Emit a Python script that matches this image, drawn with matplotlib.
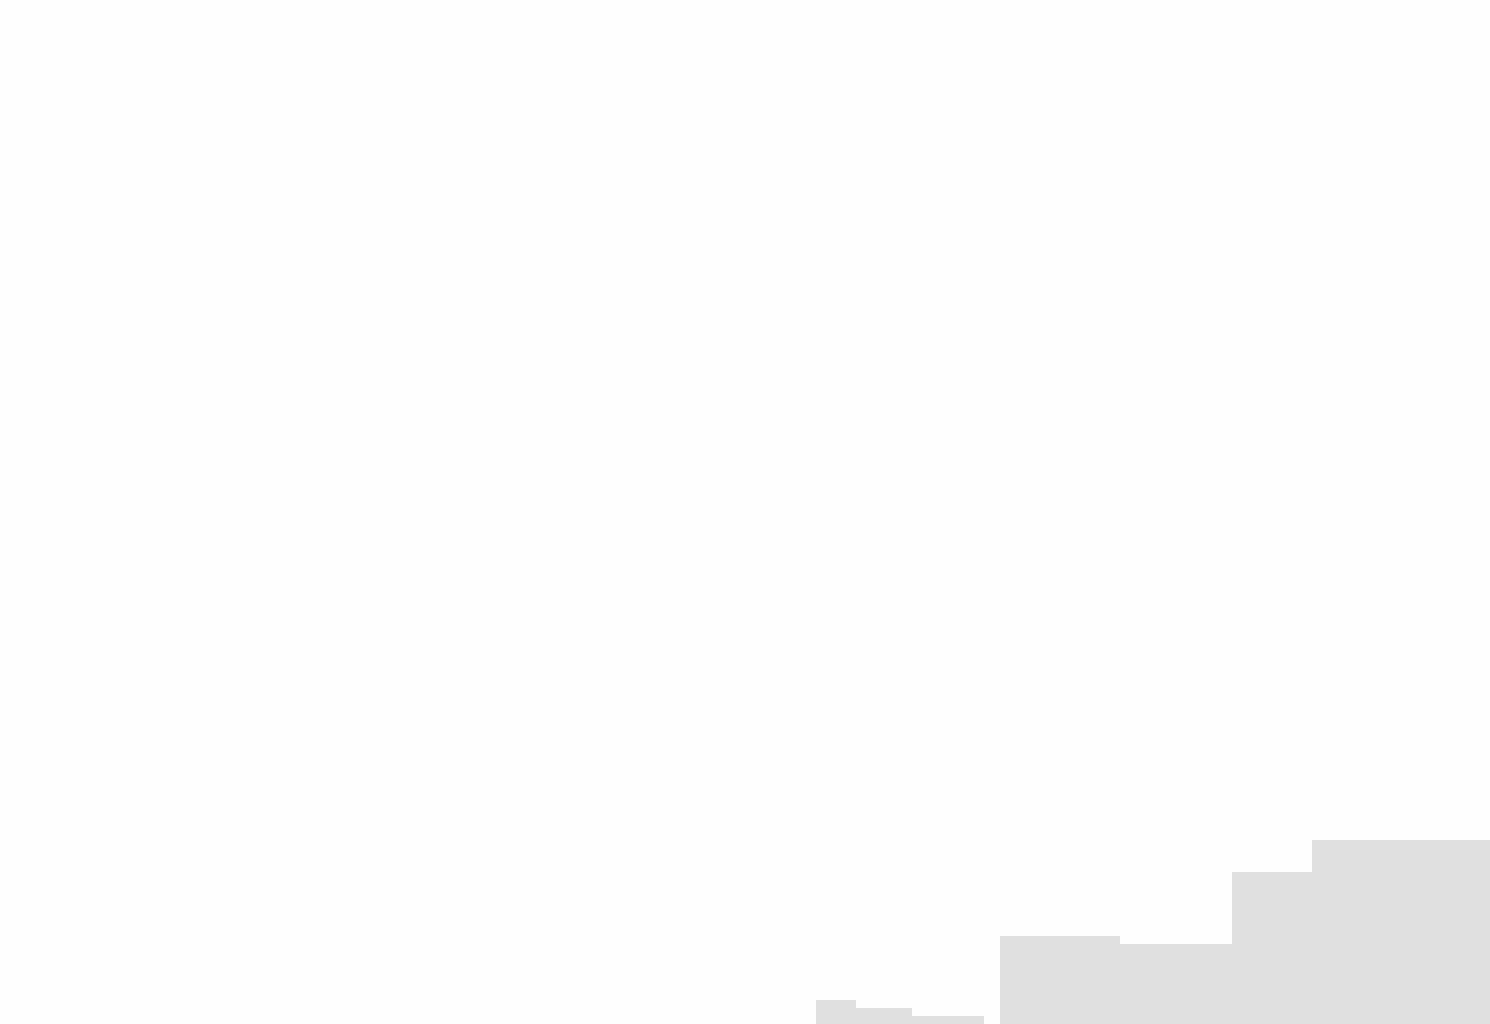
import matplotlib
matplotlib.use("Agg")
import matplotlib.pyplot as plt

# skyline blocks, in grid units (1 unit = 8 px of the original)
block_start = [102, 107, 114, 125, 140, 154, 164]
block_width = [5, 7, 9, 15, 14, 10, 23]
block_height = [3, 2, 1, 11, 10, 19, 23]

fig = plt.figure(figsize=(14.9, 10.24), dpi=100, facecolor="#fefefe")
ax = fig.add_axes([0, 0, 1, 1])
ax.set_facecolor("#fefefe")

ax.bar(block_start, block_height, width=block_width, align="edge",
       color="#e0e0e0", linewidth=0)

ax.set_xlim(0, 1490 / 8)
ax.set_ylim(0, 1024 / 8)
ax.axis("off")

fig.savefig("out.png", dpi=100, facecolor=fig.get_facecolor())
